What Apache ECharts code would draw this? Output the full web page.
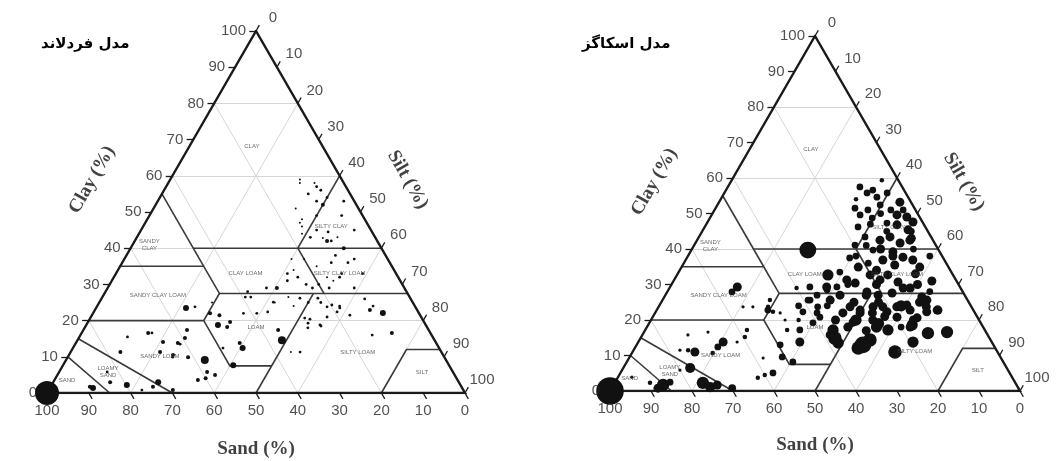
<!DOCTYPE html>
<html>
<head>
<meta charset="utf-8">
<script src="https://cdn.jsdelivr.net/npm/echarts@6/dist/echarts.min.js"></script>
<style>
html,body{margin:0;padding:0;background:#fff;}
#chart{width:1064px;height:461px;}
</style>
</head>
<body>
<div id="chart"></div>
<script>
// ---------- values ----------
const panelTitles = ['مدل فردلاند', 'مدل اسکاگز'];
const tickValues = [0, 10, 20, 30, 40, 50, 60, 70, 80, 90, 100];
const gridValues = [20, 40, 60, 80];
const axisNames = ['Clay (%)', 'Silt (%)', 'Sand (%)'];

// soil samples: [sand %, clay %, sample count]
const fredlundSamples = [
  [10,55,2],[6.5,56,2],[8,52,4],[9,53,2],[15,51,1],[2.5,53,2],[5,49,2],[11,49,2],[15,48,1],
  [12,42,4],[11,42,2],[9,40,4],[4,45,2],[17,44,1],[13,45,2],[16,46,1],[8,37,2],[12,38,2],
  [10,36,2],[20,37,1],[23,37,1],[26,33,2],[24,32,2],[23,30,2],[22,29,2],[20,30,2],[30.5,29,4],
  [33,29,2],[27,31,2],[17,32,1],[14,32,2],[12,29,2],[13,33,2],[38,28,2],[16,31,1],[8,33,2],
  [25,25,2],[22,25,2],[18,24,2],[29,24,1],[48,25,1],[10.5,58,1],[7,57,2],[10.5,44.5,2],[12.6,42.8,1],
  [10,59,1],[7,58,1],[6,54,2],[16,47,1],[15.5,43,2],[9,43,1],[14,36,2],[18,35,1],[24,34,1],
  [18,29,2],[11,26,2],[10,24,2],[29,26.5,1],[33,25,1],[38,26.5,2],[22.5,21,2],[28.6,18,2],
  [55,23.5,9],[52.7,23.8,2],[50,22,4],[48,21.5,4],[49.7,18.8,9],[46.4,19.6,4],[47.8,18.2,4],
  [42,22,2],[38.8,22,2],[36,22.4,2],[36,17.4,4],[36.5,14.6,16],[47,13.8,4],[47,12.4,9],
  [51.6,7.7,9],[51.7,12.4,2],[67.5,16.6,4],[65.2,14.1,4],[61.8,13.8,4],[59.4,15.2,4],[57.8,17.4,4],
  [73,15.5,2],[76.8,11.3,4],[67.3,11.3,4],[64.6,10.5,4],[61.3,9.9,4],[57.7,9.1,16],[58.8,5.8,4],
  [62.1,3.6,4],[60,4.1,4],[57.3,5,4],[71.9,3,9],[73.8,1.7,4],[79.8,2.2,9],[83.4,3,4],[82.7,5.8,2],
  [88.3,1.4,9],[88.9,1.7,4],[69.5,0.8,4],[76.9,0.8,2],[28,20.7,2],[25.3,18.8,2],[27.9,19.3,2],
  [19.4,22.4,2],[16.8,21.5,2],[11.3,22.9,4],[8.6,22.1,9],[14.2,16,2],[9.2,16.6,4],[33.8,11.3,2],
  [36,11.3,1],[39.3,26.5,2],[26.4,26.2,2],[21.1,23.8,2],[33.3,25.1,2],[25.2,18.5,2],[26.9,20.4,2],
  [18.2,23.5,2],[22.1,26.2,2],[19.7,24.3,2],[61.4,13.5,2],[66.6,16.6,2],[65,9.9,2],
  [100,0,144]
];

const skaggsSamples = [
  [4,59.4,4],[10.3,57.5,9],[7.6,56.6,9],[9.4,55.8,9],[7.6,54.6,9],[4.5,55.8,9],[14.5,51.5,9],
  [11.6,51,9],[7.9,52.4,9],[2.7,53.2,16],[14.2,49.6,9],[11.7,48.7,9],[5.2,49.6,16],[3.1,49,16],
  [2.3,47.6,16],[6.6,46.8,16],[8.8,47.3,9],[4.6,45.4,16],[16.4,46.2,9],[16.1,43.4,9],[12.9,42.5,16],
  [10,43.4,16],[8.4,41.7,16],[5.6,42.5,16],[16,39.7,9],[19.7,41.1,9],[11.4,39.2,16],[9.7,37.7,16],
  [7.7,36.9,16],[22.8,37.5,9],[15,36.9,16],[12.8,35.5,16],[7,34.9,16],[31.9,39.7,56],[30.5,32.7,25],
  [27.2,33.5,9],[22,34.9,16],[26.6,31.3,16],[25,30.4,16],[20.2,32.7,16],[18.5,31.3,16],[15.9,32.7,16],
  [14.4,30.7,16],[12.3,29,16],[30,29.3,9],[32.8,28.5,9],[23.4,27.9,16],[21.1,27,16],[17.4,27.6,16],
  [10.7,26.5,16],[38.4,25.6,9],[41.8,22.3,9],[38.5,22,9],[29.6,23.7,16],[28,22,16],[24,23.7,16],
  [21.3,22.3,16],[18.2,23.7,16],[15.4,22.8,16],[9.9,25.6,16],[11.6,22.3,16],[8.6,22.8,16],
  [49.1,22.3,4],[49.6,23.7,4],[55.7,23.7,2],[53.3,23.7,2],
  [54.3,29.3,16],[56.3,27.9,9],[50.1,22.8,9],[48.2,25.6,4],[47.5,22,2],[47.3,20,2],[48.2,17.2,4],
  [52,13,9],[53.2,9.6,9],[51.3,8.2,9],[45.1,17.2,9],[46.8,13.8,16],[38.9,25.6,9],
  [37.5,23.7,9],[38.4,20.8,9],[40.9,19.2,9],[37,17.2,25],[37.7,14.9,36],[37.6,13.5,25],[38.4,15.8,16],
  [31.8,13,56],[29.4,14.4,36],[33.4,12.1,36],[25,11,36],[19.2,13.8,25],[14.3,16.3,30],[9.5,16.6,30],
  [17.8,18,16],[14.8,20.6,16],[8.8,22.8,16],[19.6,20.8,16],[25.9,20,16],[31,19.4,16],[32.2,22,16],
  [27.6,22.8,16],[21.6,23.7,16],[15.5,24.2,16],[11.1,25.6,16],[33.5,25.6,16],[30.4,27,16],
  [32.5,29.3,16],[36.6,29.3,9],[23.6,17.2,25],[25,19,25],[17,18.6,25],[11,23.7,16],
  [12,38,16],[6,40,9],[18,34,16],[9,33,16],[14,29,16],[20,30,16],[24,27,16],[27,30,9],[17,24,25],
  [25,22,16],[30,20,25],[35,24,9],[33,18,16],[20,18,9],[12,25,16],[8,28,9],[4,45,9],[10,45,9],
  [13,54,4],[6,51,9],[22.5,21,16],[26,18,25],[16,20,16],[28,25,16],[19,36,9],[14,40,16],
  [3,51,9],[5,43,16],[9,50,9],[13,47,9],[17,41,9],[21,38,9],[3,38,9],[6,31,16],[10,30,16],
  [22,25,16],[29,17,16],[35,20,16],[42,24,9],[44,20,4],[36,27,9],[40,29,4],
  [65.5,13.8,16],[67.5,12.4,9],[69.6,10.7,4],[73.8,11,16],[75.2,11.5,4],[77.2,11.5,2],[67.8,16.6,2],
  [58,17.2,4],[59.5,15.2,4],[62.1,13.8,2],[73.1,15.8,2],[58,9.3,2],[57.7,5.1,9],[60,4.5,4],
  [62.1,3.7,4],[77.2,6.5,20],[80,5.9,2],[86.2,1.7,30],[87.9,0.8,16],[84.1,2.5,9],[76.2,2.3,30],
  [75,1.1,20],[73,1.7,16],[69.8,0.8,12],[89.1,2.3,4],[92.7,3.9,2],
  [100,0,150]
];

// USDA texture class boundaries, as polylines of [sand %, clay %]
const classBoundaries = [
  [[45,55],[45,35]],
  [[45,40],[0,40]],
  [[20,40],[0,60]],
  [[65,35],[45,35]],
  [[45,35],[45,27.5],[52.5,20],[52.5,7.5],[42.5,7.5]],
  [[45,27.5],[0,27.5]],
  [[20,27.5],[20,40]],
  [[80,20],[52.5,20]],
  [[50,0],[22.5,27.5]],
  [[20,0],[8,12],[0,12]],
  [[85,15],[70,0]],
  [[90,10],[85,0]]
];
const classNames = ['CLAY','SILTY CLAY','SANDY\nCLAY','CLAY LOAM','SILTY CLAY LOAM','SANDY CLAY LOAM',
  'LOAM','SANDY LOAM','SILTY LOAM','SILT','LOAMY\nSAND','SAND'];

// ---------- layout ----------
const classLabelAt = [[17,68],[9,46],[55,41],[36,33],[13.5,33],[60,27],[41,18],[68,10],[20,11.3],[7.4,5.8],[82.5,5.8],[93.4,3.6]];
const panels = [
  { left: 47, top: 31, width: 418, height: 362, titleLeft: 41, dot: 2.0 },
  { left: 610, top: 36, width: 410, height: 355, titleLeft: 582, dot: 2.25 }
];
const H = Math.sqrt(3) / 2;
// axis-unit anchors for the three axis names (clay, silt, sand)
const axisNameAt = [[10.8, 51], [86.3, 51], [50, -13.3]];
const axisNameRotate = [60, -60, 0];

// ternary (sand, clay) -> cartesian plane
function xy(sand, clay) { return [100 - sand - clay / 2, clay * H]; }

function buildPanel(gi, samples) {
  const ax = { xAxisIndex: gi, yAxisIndex: gi };
  const dot = panels[gi].dot;
  const grid = [];
  gridValues.forEach(v => {
    grid.push({ coords: [xy(100 - v, v), xy(0, v)] });           // constant clay
    grid.push({ coords: [xy(v, 0), xy(v, 100 - v)] });           // constant sand
    grid.push({ coords: [xy(100 - v, 0), xy(0, 100 - v)] });     // constant silt
  });
  const ticks = [];
  tickValues.forEach(v => {
    const c = xy(100 - v, v);
    ticks.push({ coords: [c, [c[0] - 1.6, c[1]]] });
    const s = xy(0, 100 - v);
    ticks.push({ coords: [s, [s[0] + 0.8, s[1] + 1.4]] });
    const d = xy(v, 0);
    ticks.push({ coords: [d, [d[0] + 0.8, d[1] - 1.4]] });
  });
  const tickFont = { fontFamily: 'Liberation Sans, Arial, sans-serif', fontSize: 15, color: '#262626' };
  const nameFont = { fontFamily: 'Liberation Serif, Times New Roman, serif', fontSize: 19, fontWeight: 'bold', color: '#111' };
  return [
    { type: 'lines', ...ax, coordinateSystem: 'cartesian2d', silent: true, z: 1,
      lineStyle: { color: '#d6d6d6', width: 1, opacity: 1 }, data: grid },
    { type: 'lines', ...ax, coordinateSystem: 'cartesian2d', silent: true, z: 2, polyline: true,
      lineStyle: { color: '#3a3a3a', width: 1.6, opacity: 1 },
      data: classBoundaries.map(p => ({ coords: p.map(q => xy(q[0], q[1])) })) },
    { type: 'lines', ...ax, coordinateSystem: 'cartesian2d', silent: true, z: 3, polyline: true,
      lineStyle: { color: '#1a1a1a', width: 2.4, opacity: 1 },
      data: [{ coords: [xy(100, 0), xy(0, 100), xy(0, 0), xy(100, 0)] }] },
    { type: 'lines', ...ax, coordinateSystem: 'cartesian2d', silent: true, z: 3, clip: false,
      lineStyle: { color: '#1a1a1a', width: 1.3, opacity: 1 }, data: ticks },
    { type: 'scatter', ...ax, silent: true, z: 4, clip: false,
      symbolSize: v => dot * Math.sqrt(v[2]),
      itemStyle: { color: '#111', opacity: 1 },
      data: samples.map(p => [...xy(p[0], p[1]), p[2]]) },
    { type: 'scatter', ...ax, silent: true, symbolSize: 0, z: 5,
      label: { show: true, position: 'left', distance: 10, formatter: p => p.value[2], ...tickFont },
      data: tickValues.map(v => [...xy(100 - v, v), v]) },
    { type: 'scatter', ...ax, silent: true, symbolSize: 0, z: 5,
      label: { show: true, position: 'inside', offset: [17, -13], formatter: p => p.value[2], ...tickFont },
      data: tickValues.map(v => [...xy(0, 100 - v), v]) },
    { type: 'scatter', ...ax, silent: true, symbolSize: 0, z: 5,
      label: { show: true, position: 'bottom', distance: 10, formatter: p => p.value[2], ...tickFont },
      data: tickValues.map(v => [...xy(v, 0), v]) },
    { type: 'scatter', ...ax, silent: true, symbolSize: 0, z: 5,
      label: { show: true, position: 'inside', formatter: p => classNames[p.dataIndex],
        fontFamily: 'Liberation Sans, Arial, sans-serif', fontSize: 6, color: '#444', lineHeight: 7 },
      data: classLabelAt.map(p => xy(p[0], p[1])) },
    ...axisNames.map((name, i) => ({
      type: 'scatter', ...ax, silent: true, symbolSize: 0, z: 5, clip: false,
      label: { show: true, position: 'inside', rotate: axisNameRotate[i], formatter: name, ...nameFont },
      data: [axisNameAt[i]]
    }))
  ];
}

const chart = echarts.init(document.getElementById('chart'), null, { renderer: 'canvas' });
chart.setOption({
  animation: false,
  backgroundColor: '#fff',
  title: panels.map((p, i) => ({
    text: panelTitles[i], left: p.titleLeft, top: 37, padding: 0,
    textStyle: { fontFamily: 'DejaVu Sans, sans-serif', fontSize: 15, fontWeight: 'bold', color: '#000' }
  })),
  grid: panels.map(p => ({ left: p.left, top: p.top, width: p.width, height: p.height })),
  xAxis: panels.map((p, i) => ({ gridIndex: i, type: 'value', min: 0, max: 100, show: false })),
  yAxis: panels.map((p, i) => ({ gridIndex: i, type: 'value', min: 0, max: 100 * H, show: false })),
  series: [...buildPanel(0, fredlundSamples), ...buildPanel(1, skaggsSamples)]
});
</script>
</body>
</html>
